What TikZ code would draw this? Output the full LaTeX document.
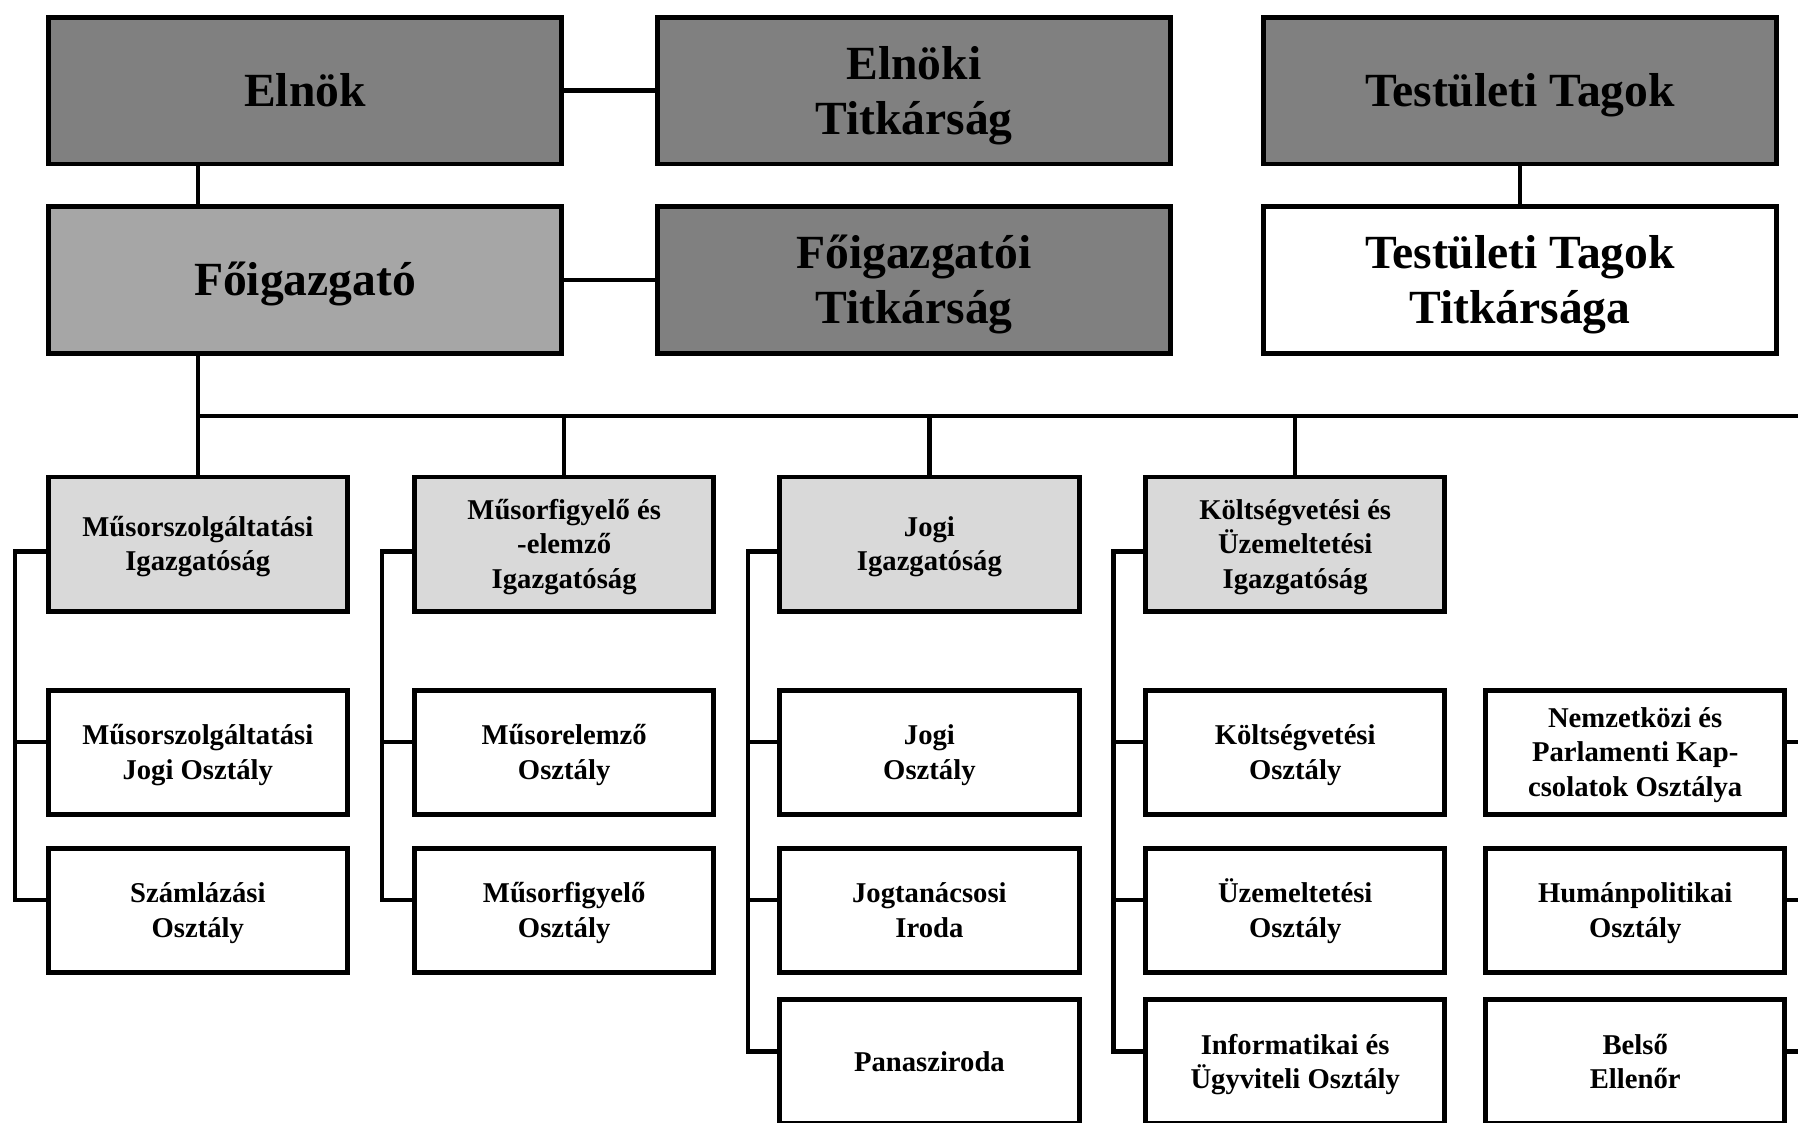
\documentclass[tikz,border=0pt]{standalone}
\usepackage{fontspec}
\setmainfont{Liberation Serif}
\newcommand\BigF{\bfseries\fontsize{41.5}{48}\selectfont}
\newcommand\SmF{\bfseries\fontsize{25}{30}\selectfont}
\newcommand\wstrut{\rule[-0.216em]{0pt}{1.107em}}
\newcommand\tx[1]{\wstrut#1\wstrut}
\definecolor{dkgray}{HTML}{808080}
\definecolor{mdgray}{HTML}{A6A6A6}
\definecolor{ltgray}{HTML}{D9D9D9}
\begin{document}
\begin{tikzpicture}[x=1pt,y=-1pt,
  anybox/.style={draw, line width=4.3pt, align=center, inner sep=0pt},
  topbox/.style={anybox, minimum width=448pt, minimum height=128pt, font=\BigF},
  dirbox/.style={anybox, minimum width=261pt, minimum height=117pt, font=\SmF, fill=ltgray},
  depbox/.style={anybox, minimum width=261pt, minimum height=108pt, font=\SmF, fill=white},
  conn/.style={line width=3.7pt}]
\useasboundingbox (0,0) rectangle (1568,979);
\clip (0,0) rectangle (1568,979);
\fill[white] (0,0) rectangle (1568,979);

% top rows
\node[topbox, fill=dkgray] (elnok) at (266,79) {\tx{Elnök}};
\node[topbox, fill=dkgray] (eltit) at (797,79) {\tx{Elnöki\\Titkárság}};
\node[topbox, fill=dkgray] (tt) at (1325.5,79) {\tx{Testületi Tagok}};
\node[topbox, fill=mdgray] (foig) at (266,244) {\tx{Főigazgató}};
\node[topbox, fill=dkgray] (foigtit) at (797,244) {\tx{Főigazgatói\\Titkárság}};
\node[topbox, fill=white] (tttit) at (1325.5,244) {\tx{Testületi Tagok\\Titkársága}};

% directorates
\node[dirbox] (d1) at (172.5,474.5) {\tx{Műsorszolgáltatási\\Igazgatóság}};
\node[dirbox] (d2) at (492,474.5) {\tx{Műsorfigyelő és\\-elemző\\Igazgatóság}};
\node[dirbox] (d3) at (810.5,474.5) {\tx{Jogi\\Igazgatóság}};
\node[dirbox] (d4) at (1129.5,474.5) {\tx{Költségvetési és\\Üzemeltetési\\Igazgatóság}};

% departments
\node[depbox] (a1) at (172.5,656) {\tx{Műsorszolgáltatási\\Jogi Osztály}};
\node[depbox] (a2) at (172.5,794) {\tx{Számlázási\\Osztály}};
\node[depbox] (b1) at (492,656) {\tx{Műsorelemző\\Osztály}};
\node[depbox] (b2) at (492,794) {\tx{Műsorfigyelő\\Osztály}};
\node[depbox] (c1) at (810.5,656) {\tx{Jogi\\Osztály}};
\node[depbox] (c2) at (810.5,794) {\tx{Jogtanácsosi\\Iroda}};
\node[depbox] (c3) at (810.5,926) {\tx{Panasziroda}};
\node[depbox] (e1) at (1129.5,656) {\tx{Költségvetési\\Osztály}};
\node[depbox] (e2) at (1129.5,794) {\tx{Üzemeltetési\\Osztály}};
\node[depbox] (e3) at (1129.5,926) {\tx{Informatikai és\\Ügyviteli Osztály}};
\node[depbox] (f1) at (1426,656) {\tx{Nemzetközi és\\Parlamenti Kap-\\csolatok Osztálya}};
\node[depbox] (f2) at (1426,794) {\tx{Humánpolitikai\\Osztály}};
\node[depbox] (f3) at (1426,926) {\tx{Belső\\Ellenőr}};

% top connectors
\draw[conn] (elnok) -- (eltit);
\draw[conn] (foig) -- (foigtit);
\draw[conn] (d1 |- elnok.south) -- (d1 |- foig.north);
\draw[conn] (tt) -- (tttit);

% bus
\coordinate (busL) at (172.5,363);
\coordinate (busR) at (1580,363);
\draw[conn] (d1 |- foig.south) -- (busL) -- (busR);
\draw[conn] (d1 |- busL) -- (d1.north);
\draw[conn] (d2 |- busL) -- (d2.north);
\draw[conn] (d3 |- busL) -- (d3.north);
\draw[conn] (d4 |- busL) -- (d4.north);

% bracket x positions
\coordinate (k1) at (13,0);
\coordinate (k2) at (333,0);
\coordinate (k3) at (652,0);
\coordinate (k4) at (971,0);
\coordinate (kr) at (1580,0);

% stub points
\coordinate (d1s) at ([yshift=-6.5pt]d1.west);
\coordinate (d2s) at ([yshift=-6.5pt]d2.west);
\coordinate (d3s) at ([yshift=-6.5pt]d3.west);
\coordinate (d4s) at ([yshift=-6.5pt]d4.west);
\coordinate (a1s) at ([yshift=9pt]a1.west);
\coordinate (a2s) at ([yshift=9pt]a2.west);
\coordinate (b1s) at ([yshift=9pt]b1.west);
\coordinate (b2s) at ([yshift=9pt]b2.west);
\coordinate (c1s) at ([yshift=9pt]c1.west);
\coordinate (c2s) at ([yshift=9pt]c2.west);
\coordinate (c3s) at ([yshift=9pt]c3.west);
\coordinate (e1s) at ([yshift=9pt]e1.west);
\coordinate (e2s) at ([yshift=9pt]e2.west);
\coordinate (e3s) at ([yshift=9pt]e3.west);
\coordinate (f1s) at ([yshift=9pt]f1.east);
\coordinate (f2s) at ([yshift=9pt]f2.east);
\coordinate (f3s) at ([yshift=9pt]f3.east);

% brackets
\draw[conn] (d1s) -| (k1 |- a2s) -- (a2s);
\draw[conn] (k1 |- a1s) -- (a1s);
\draw[conn] (d2s) -| (k2 |- b2s) -- (b2s);
\draw[conn] (k2 |- b1s) -- (b1s);
\draw[conn] (d3s) -| (k3 |- c3s) -- (c3s);
\draw[conn] (k3 |- c1s) -- (c1s);
\draw[conn] (k3 |- c2s) -- (c2s);
\draw[conn] (d4s) -| (k4 |- e3s) -- (e3s);
\draw[conn] (k4 |- e1s) -- (e1s);
\draw[conn] (k4 |- e2s) -- (e2s);
\draw[conn] (f1s) -- (f1s -| kr);
\draw[conn] (f2s) -- (f2s -| kr);
\draw[conn] (f3s) -- (f3s -| kr);
\end{tikzpicture}
\end{document}
